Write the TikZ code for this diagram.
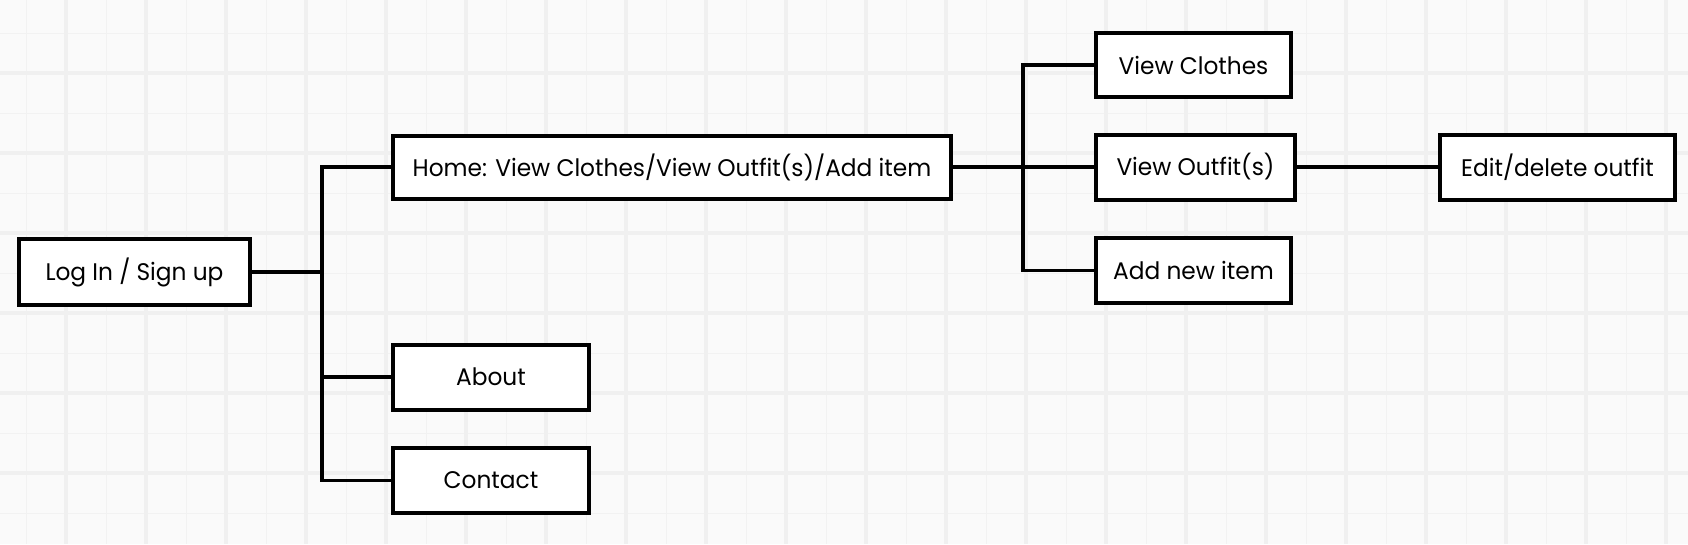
\documentclass[tikz,border=0pt]{standalone}
\usepackage{fontspec}
\setmainfont[FakeStretch=0.97]{Poppins}
\begin{document}
\begin{tikzpicture}[x=1pt,y=-1pt,
  box/.style={draw=black,fill=white,line width=4pt,inner sep=0pt,font=\fontsize{24}{28}\selectfont,text=black},
  link/.style={draw=black,line width=3.2pt},
  gridmajor/.style={draw=black!6,line width=3.5pt},
  gridminor/.style={draw=black!5,line width=1pt}]
\useasboundingbox (0,0) rectangle (1688,544);
\fill[black!2] (0,0) rectangle (1688,544);
\foreach \x in {26,106,...,1688} \draw[gridminor] (\x,0) -- (\x,544);
\foreach \y in {33,113,...,544} \draw[gridminor] (0,\y) -- (1688,\y);
\foreach \x in {66,146,...,1688} \draw[gridmajor] (\x,0) -- (\x,544);
\foreach \y in {73,153,...,544} \draw[gridmajor] (0,\y) -- (1688,\y);

\node[box,minimum width=231pt,minimum height=66pt] (login) at (134.5,272) {Log In / Sign up};
\node[box,minimum width=558pt,minimum height=63pt] (home) at (672,167) {Home: View Clothes/View Outfit(s)/Add item};
\node[box,minimum width=196pt,minimum height=65pt] (about) at (491,377) {About};
\node[box,minimum width=196pt,minimum height=65pt] (contact) at (491,480.5) {Contact};
\node[box,minimum width=195pt,minimum height=64pt] (vclothes) at (1193.5,65) {View Clothes};
\node[box,minimum width=199pt,minimum height=65pt] (voutfit) at (1195.5,167) {View Outfit(s)};
\node[box,minimum width=195pt,minimum height=65pt] (addnew) at (1193.5,270.5) {Add new item};
\node[box,minimum width=235pt,minimum height=65pt] (edit) at (1557.5,167) {Edit/delete outfit};

\coordinate (j1) at (322,272);
\coordinate (j2) at (1023,167);

\draw[link] (login.east) -- (j1);
\draw[link] (home.west) -| (j1) |- (about.west);
\draw[link] (j1) |- (contact.west);
\draw[link] (home.east) -- (j2);
\draw[link] (vclothes.west) -| (j2) |- (addnew.west);
\draw[link] (j2) -- (voutfit.west);
\draw[link] (voutfit.east) -- (edit.west);
\end{tikzpicture}
\end{document}
